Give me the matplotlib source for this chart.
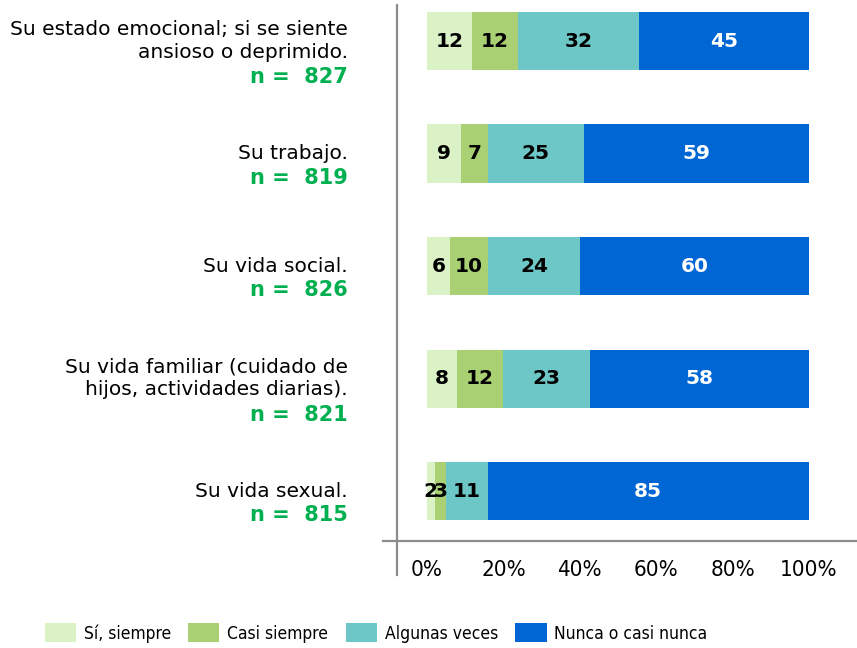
import numpy as np
import matplotlib
matplotlib.use("Agg")
import matplotlib.pyplot as plt
from matplotlib import font_manager
from matplotlib.patches import Patch
from matplotlib.lines import Line2D
from matplotlib.transforms import blended_transform_factory

# ---- data ---------------------------------------------------------------
items = [
    "Su estado emocional; si se siente\nansioso o deprimido.",
    "Su trabajo.",
    "Su vida social.",
    "Su vida familiar (cuidado de\nhijos, actividades diarias).",
    "Su vida sexual.",
]
n_resp = [827, 819, 826, 821, 815]
series = ["Sí, siempre", "Casi siempre", "Algunas veces", "Nunca o casi nunca"]
si_siempre = [12, 9, 6, 8, 2]
casi_siempre = [12, 7, 10, 12, 3]
algunas_veces = [32, 25, 24, 23, 11]
nunca = [45, 59, 60, 58, 85]

colors = ["#daf2c6", "#a9d173", "#6cc7c6", "#0066d4"]
txt_colors = ["black", "black", "black", "white"]
green = "#00b050"


def narrow_font(size):
    """condensed font if one is installed, else a smaller DejaVu Sans"""
    for fam, st in [("Liberation Sans Narrow", "normal"), ("DejaVu Sans", "condensed")]:
        fp = font_manager.FontProperties(family=fam, stretch=st, size=size)
        try:
            path = font_manager.findfont(fp, fallback_to_default=False)
        except ValueError:
            continue
        if "Narrow" in path or "Condensed" in path:
            return fp
    return font_manager.FontProperties(family="DejaVu Sans", size=size * 0.84)


W, H = 857, 648
fig = plt.figure(figsize=(W / 100, H / 100), dpi=100)


def fx(px):
    return px / W


def fy(py):
    return 1 - py / H


ax = fig.add_axes([fx(397), fy(541), fx(857) - fx(397), fy(5) - fy(541)])

vals = np.array([si_siempre, casi_siempre, algunas_veces, nunca], float)
pct = vals / vals.sum(axis=0) * 100          # 100% stacked
y = np.arange(len(items))
left = np.zeros(len(items))
for k in range(len(series)):
    ax.barh(y, pct[k], left=left, height=0.516, color=colors[k], label=series[k])
    for i in range(len(items)):
        ax.text(left[i] + pct[k, i] / 2, y[i], f"{int(vals[k, i])}",
                ha="center", va="center", fontsize=14.5, fontweight="bold",
                color=txt_colors[k])
    left += pct[k]

ax.set_xlim(-7.85, 112.57)
ax.set_ylim(4.444, -0.32)
for s in ax.spines.values():
    s.set_visible(False)
ax.set_yticks([])
ax.set_xticks(range(0, 101, 20), [f"{v}%" for v in range(0, 101, 20)])
ax.tick_params(axis="x", length=0, pad=14)
tick_fp = narrow_font(16)
for lab in ax.get_xticklabels():
    lab.set_fontproperties(tick_fp)

# axis lines drawn Excel style (crossing each other)
fig.add_artist(Line2D([fx(397), fx(397)], [fy(575), fy(5)], color="#8c8c8c", lw=1.6))
fig.add_artist(Line2D([fx(383), fx(857)], [fy(541), fy(541)], color="#8c8c8c", lw=1.6))

# category labels with sample sizes
tr = blended_transform_factory(fig.transFigure, ax.transData)
px_per_row = 112.5
for i, (name, n) in enumerate(zip(items, n_resp)):
    k = name.count("\n") + 2
    block = i + 12 / px_per_row
    ax.text(fx(348), block - 12 / px_per_row, name, transform=tr, ha="right",
            va="center", multialignment="right", fontsize=14.5, linespacing=1.22,
            clip_on=False)
    ax.text(fx(348), block + (k - 1) * 12 / px_per_row, f"n =  {n}", transform=tr,
            ha="right", va="center", fontsize=15, fontweight="bold", color=green,
            clip_on=False)

handles = [Patch(facecolor=c, edgecolor="none") for c in colors]
leg_fp = narrow_font(12.5)
fig.legend(handles, series, loc="center", bbox_to_anchor=(fx(376), fy(633)),
           ncol=4, frameon=False, prop=leg_fp,
           handlelength=1.8, handleheight=1.25, handletextpad=0.45,
           columnspacing=1.0)

fig.savefig("out.png", dpi=100)
